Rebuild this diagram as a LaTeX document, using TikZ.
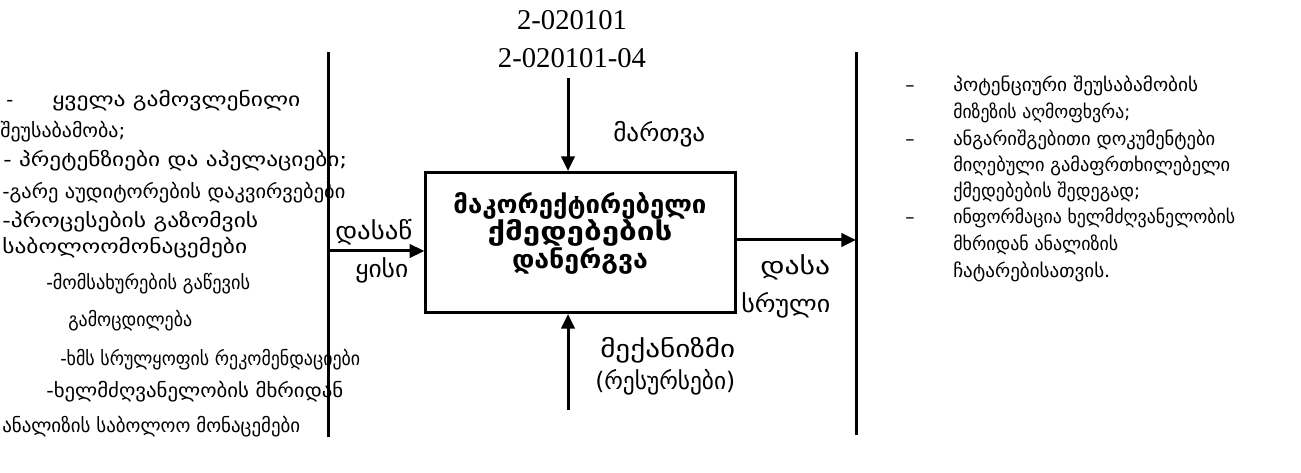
\documentclass[tikz,border=0pt]{standalone}
\usepackage{fontspec}
\usepackage{graphicx}
\usetikzlibrary{arrows.meta}
\newfontfamily\geo{DejaVu Sans}
\newfontfamily\numf{Liberation Serif}
\newcommand\fw[2]{\resizebox{#1pt}{\height}{#2}}
\begin{document}
\begin{tikzpicture}[x=0.75pt,y=-0.75pt,
  bar/.style={line width=2.25pt},
  arr/.style={line width=2.25pt,-{Triangle[length=11pt,width=10pt]}},
  lt/.style={anchor=base west,inner sep=0pt,font=\geo\fontsize{14.5pt}{17pt}\selectfont},
  rt/.style={anchor=base west,inner sep=0pt,font=\geo\fontsize{14pt}{16pt}\selectfont},
  lab/.style={anchor=base west,inner sep=0pt,font=\geo\fontsize{18pt}{20pt}\selectfont},
  num/.style={anchor=base,inner sep=0pt,font=\numf\fontsize{21.5pt}{24pt}\selectfont},
  boxt/.style={anchor=base,inner sep=0pt,font=\geo\bfseries\fontsize{19pt}{21pt}\selectfont}]
\useasboundingbox (0,0) rectangle (1301,473);
% bars
\coordinate (lbt) at (328,52);
\coordinate (lbb) at (328,437);
\coordinate (rbt) at (856,52);
\coordinate (rbb) at (856,435);
\draw[bar] (lbt) -- (lbb);
\draw[bar] (rbt) -- (rbb);
% box
\node[draw,line width=2.25pt,minimum width=232pt,minimum height=105pt,inner sep=0pt] (box) at (580.5,242.5) {};
\node[boxt] (b1) at (580,214) {\fw{189.75}{მაკორექტირებელი}};
\node[boxt] (b2) at (580,241) {\fw{138.75}{ქმედებების}};
\node[boxt] (b3) at (580,269) {\fw{102}{დანერგვა}};
% arrows
\coordinate (inL) at (328,251);
\coordinate (outR) at (856,240);
\coordinate (ctl) at (568,78);
\coordinate (mech) at (568,410);
\draw[arr] (inL) -- (box.west |- inL);
\draw[arr] (box.east |- outR) -- (outR);
\draw[arr] (ctl) -- (ctl |- box.north);
\draw[arr] (mech) -- (mech |- box.south);
% top numbers
\node[num] (n1) at (572,30) {2-020101};
\node[num] (n2) at (572,68) {2-020101-04};
% labels
\node[lab] (c1) at (613,142) {\fw{69}{მართვა}};
\node[lab] (i1) at (335,240) {\fw{57.75}{დასაწ}};
\node[lab] (i2) at (355,278) {\fw{39.75}{ყისი}};
\node[lab] (o1) at (760,275) {\fw{52.5}{დასა}};
\node[lab] (o2) at (741,313) {\fw{66.75}{სრული}};
\node[lab] (m1) at (600,358) {\fw{101.25}{მექანიზმი}};
\node[lab] (m2) at (595,389) {\fw{105}{(რესურსები)}};
% left column
\node[lt] (l1d) at (6,107) {-};
\node[lt] (l1) at (52,107) {\fw{186}{ყველა გამოვლენილი}};
\node[lt] (l2) at (0,138) {\fw{93.75}{შეუსაბამობა;}};
\node[lt] (l3) at (3,167) {\fw{258}{- პრეტენზიები და აპელაციები;}};
\node[lt] (l4) at (2,199) {\fw{257.25}{-გარე აუდიტორების დაკვირვებები}};
\node[lt] (l5) at (2,228) {\fw{192}{-პროცესების გაზომვის}};
\node[lt] (l6) at (2,254) {\fw{183.75}{საბოლოომონაცემები}};
\node[lt] (l7) at (46,290) {\fw{153}{-მომსახურების გაწევის}};
\node[lt] (l8) at (68,327) {\fw{93}{გამოცდილება}};
\node[lt] (l9) at (60,365) {\fw{225}{-ხმს სრულყოფის რეკომენდაციები}};
\node[lt] (l10) at (46,397) {\fw{222.75}{-ხელმძღვანელობის მხრიდან}};
\node[lt] (l11) at (2,432) {\fw{223.5}{ანალიზის საბოლოო მონაცემები}};
% right column
\node[rt] (r1d) at (905,92) {–};
\node[rt] (r1) at (953,92) {\fw{183.75}{პოტენციური შეუსაბამობის}};
\node[rt] (r2) at (953,119) {\fw{132.75}{მიზეზის აღმოფხვრა;}};
\node[rt] (r3d) at (905,146) {–};
\node[rt] (r3) at (953,146) {\fw{196.5}{ანგარიშგებითი დოკუმენტები}};
\node[rt] (r4) at (953,172) {\fw{207.75}{მიღებული გამაფრთხილებელი}};
\node[rt] (r5) at (953,198) {\fw{140.25}{ქმედებების შედეგად;}};
\node[rt] (r6d) at (905,224) {–};
\node[rt] (r6) at (953,224) {\fw{211.5}{ინფორმაცია ხელმძღვანელობის}};
\node[rt] (r7) at (953,251) {\fw{123.75}{მხრიდან ანალიზის}};
\node[rt] (r8) at (953,278) {\fw{117.75}{ჩატარებისათვის.}};
\end{tikzpicture}
\end{document}
